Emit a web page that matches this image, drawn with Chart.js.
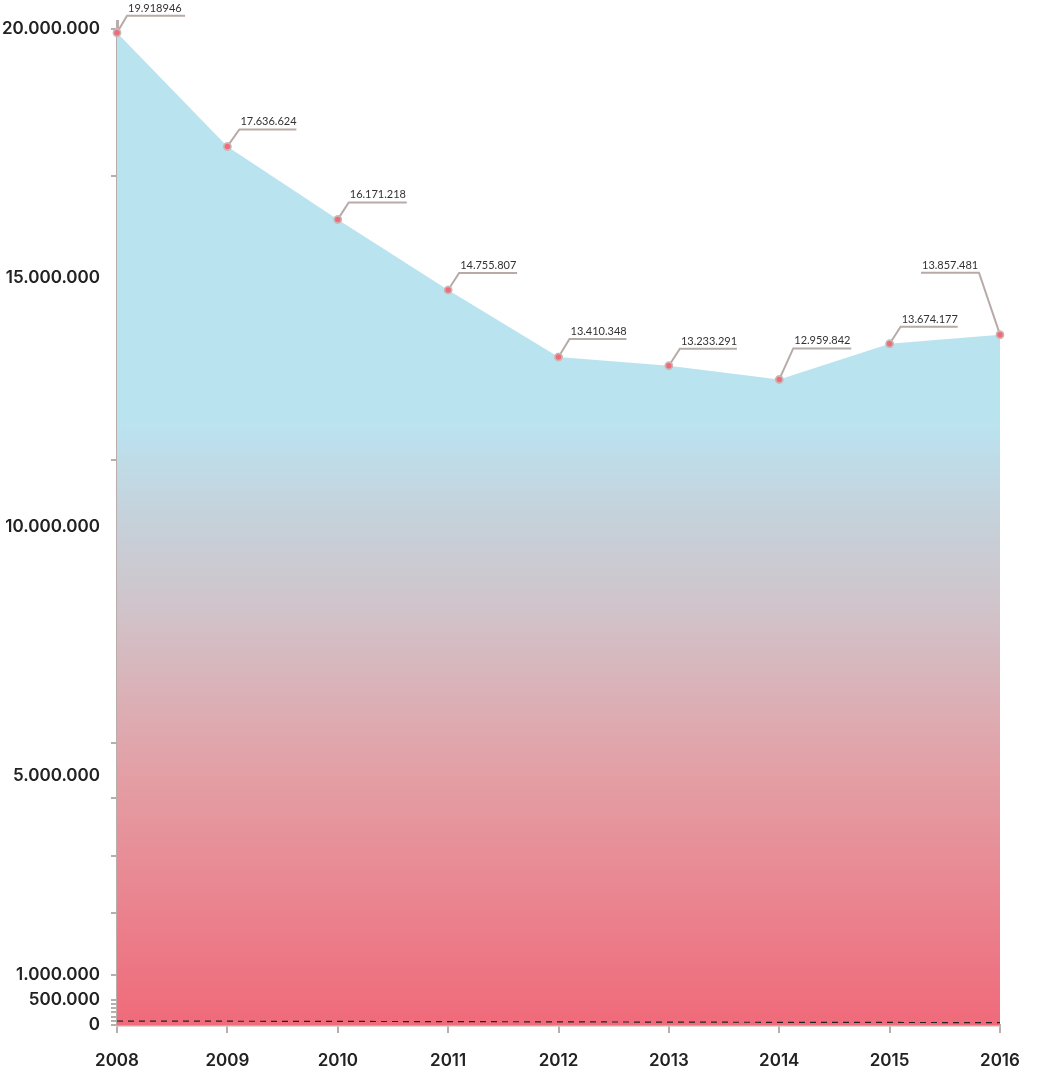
<!DOCTYPE html>
<html>
<head>
<meta charset="utf-8">
<script src="https://cdn.jsdelivr.net/npm/chart.js@4.4.1/dist/chart.umd.min.js"></script>
<style>
  html, body { margin: 0; padding: 0; background: #fff; }
  canvas { display: block; }
</style>
</head>
<body>
<canvas id="chart" width="1038" height="1073"></canvas>
<script>
// ── DATA ──────────────────────────────────────────────────────
const years = ['2008', '2009', '2010', '2011', '2012', '2013', '2014', '2015', '2016'];
const totals = [19918946, 17636624, 16171218, 14755807, 13410348, 13233291, 12959842, 13674177, 13857481];
const totalLabels = ['19.918946', '17.636.624', '16.171.218', '14.755.807', '13.410.348',
                     '13.233.291', '12.959.842', '13.674.177', '13.857.481'];
// small series drawn as the dashed line near zero
const baseline = [80000, 76000, 72000, 68000, 63000, 58000, 54000, 51000, 48000];

// y axis: labelled ticks and mark-only ticks
const yLabelValues = [0, 500000, 1000000, 5000000, 10000000, 15000000, 20000000];
const yLabelTexts = ['0', '500.000', '1.000.000', '5.000.000', '10.000.000', '15.000.000', '20.000.000'];
const yMarkValues = [0, 85000, 170000, 255000, 340000, 425000, 500000, 1000000,
                     2250000, 3400000, 4550000, 5670000, 11350000, 17050000, 20000000];

// ── STYLE ─────────────────────────────────────────────────────
const AXIS = '#b9aeab';
const TEXT = '#222222';
const Y_MAX = 20150000;
// leader geometry per point: [dx to kink, dy to kink, horizontal length]
const leaders = [[10, -17, 58], [12, -17, 57], [11, -17, 58], [11, -17, 58], [11, -18, 57],
                 [11, -17, 57], [14, -31, 58], [11, -17, 57], [-21, -62, -58]];

const allYTicks = Array.from(new Set([...yLabelValues, ...yMarkValues])).sort((a, b) => a - b);

function areaGradient(ctx) {
  const { chart } = ctx;
  const area = chart.chartArea;
  if (!area) return '#bae3f0';
  const g = chart.ctx.createLinearGradient(0, area.top, 0, area.bottom);
  g.addColorStop(0, '#bae3f0');
  g.addColorStop(0.40, '#bae3f0');
  g.addColorStop(0.49, '#c5d2db');
  g.addColorStop(0.59, '#d1c3c9');
  g.addColorStop(0.75, '#e39fa5');
  g.addColorStop(1, '#f06a7a');
  return g;
}

// ── LEADER LINES + VALUE LABELS ───────────────────────────────
const leaderPlugin = {
  id: 'leaders',
  afterDraw(chart) {
    const ctx = chart.ctx;
    const meta = chart.getDatasetMeta(0);
    ctx.save();
    ctx.strokeStyle = '#b7aba8';
    ctx.lineWidth = 2;
    ctx.font = '11px Lato, "Open Sans", sans-serif';
    ctx.fillStyle = '#333';
    ctx.textAlign = 'left';
    ctx.textBaseline = 'alphabetic';
    meta.data.forEach((pt, i) => {
      const [dx, dy, len] = leaders[i];
      const kx = pt.x + dx, ky = pt.y + dy;
      ctx.beginPath();
      ctx.moveTo(pt.x, pt.y);
      ctx.lineTo(kx, ky);
      ctx.lineTo(kx + len, ky);
      ctx.stroke();
      ctx.fillText(totalLabels[i], Math.min(kx, kx + len) + 1, ky - 4);
    });
    ctx.restore();
    // points on top of the leaders
    meta.data.forEach(pt => pt.draw(ctx, chart.chartArea));
  }
};

new Chart(document.getElementById('chart'), {
  type: 'line',
  data: {
    labels: years,
    datasets: [{
      data: totals,
      order: 1,
      fill: 'origin',
      backgroundColor: areaGradient,
      borderColor: 'rgba(0,0,0,0)',
      borderWidth: 0,
      tension: 0,
      pointRadius: 3.5,
      pointBorderWidth: 1.5,
      pointBackgroundColor: '#ef6b7b',
      pointBorderColor: '#c9b8b6',
      clip: false,
    }, {
      data: baseline,
      order: 0,
      fill: false,
      borderColor: '#222',
      borderWidth: 1.2,
      borderDash: [6, 5],
      pointRadius: 0,
      tension: 0,
    }]
  },
  options: {
    responsive: false,
    animation: false,
    layout: { padding: { top: 20, right: 38, left: 0, bottom: 0 } },
    plugins: { legend: { display: false }, tooltip: { enabled: false } },
    scales: {
      x: {
        z: 1,
        offset: false,
        border: { color: AXIS, width: 2.5 },
        grid: { drawOnChartArea: false, drawTicks: true, tickLength: 8, tickColor: AXIS, lineWidth: 2 },
        ticks: {
          color: TEXT, padding: 18, maxRotation: 0,
          font: { family: 'Inter, Lato, sans-serif', size: 17, weight: '600' },
        },
        afterFit(scale) { scale.height = 48; },
      },
      y: {
        z: 1,
        min: 0,
        max: Y_MAX,
        border: { color: AXIS, width: 3 },
        grid: {
          drawOnChartArea: false, drawTicks: true, tickLength: 6, lineWidth: 2,
          tickColor: c => (c.tick && yMarkValues.includes(c.tick.value)) ? AXIS : 'rgba(0,0,0,0)',
        },
        ticks: {
          color: TEXT, padding: 11, autoSkip: false,
          font: { family: 'Inter, Lato, sans-serif', size: 17, weight: '600' },
          callback: v => {
            const k = yLabelValues.indexOf(v);
            return k >= 0 ? yLabelTexts[k] : '';
          },
        },
        afterBuildTicks(scale) { scale.ticks = allYTicks.map(v => ({ value: v })); },
        afterFit(scale) { scale.width = 117; },
      }
    }
  },
  plugins: [leaderPlugin]
});
</script>
</body>
</html>
